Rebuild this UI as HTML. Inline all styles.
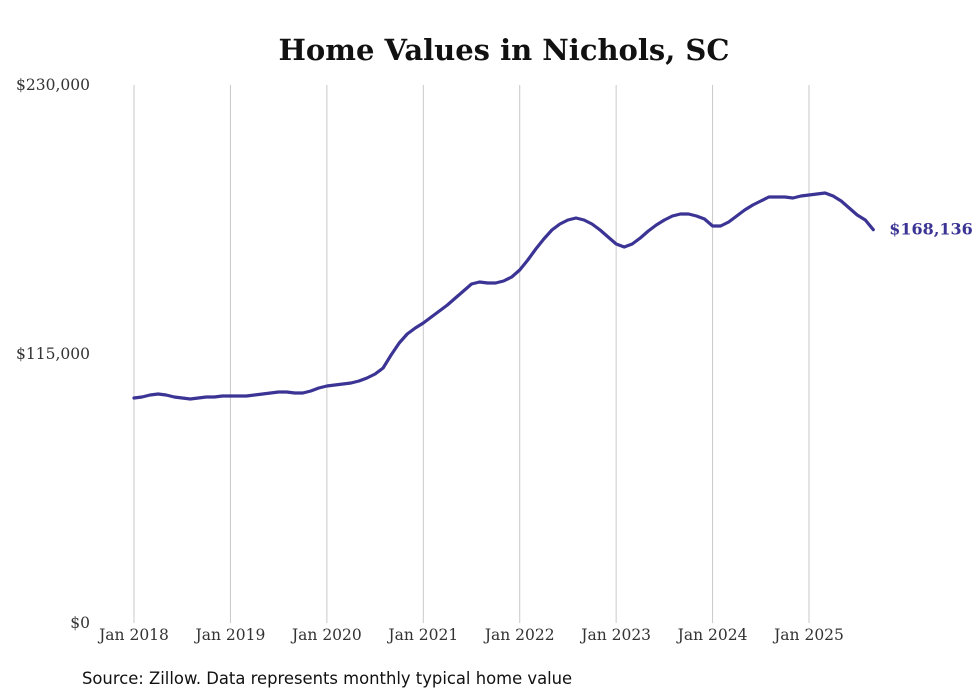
<!DOCTYPE html>
<html><head><meta charset="utf-8"><style>
body{margin:0;background:#fff;}
svg{display:block;}
</style></head><body>
<svg width="980" height="699" id="c">
<text x="504" y="60" text-anchor="middle" font-family="'DejaVu Serif','Liberation Serif',serif" font-weight="bold" font-size="29" fill="#111">Home Values in Nichols, SC</text>
<text x="82" y="684" font-family="'DejaVu Sans','Liberation Sans',sans-serif" font-size="16.4" fill="#111">Source: Zillow. Data represents monthly typical home value</text>
<g id="grid"></g><g id="yax"></g><g id="xax"></g><g id="ser"></g>
</svg>
<script>
const yTicks=[0,115000,230000];
const yTickLabels=["$0","$115,000","$230,000"];
const xTickYears=[2018,2019,2020,2021,2022,2023,2024,2025];
const xTickLabels=["Jan 2018","Jan 2019","Jan 2020","Jan 2021","Jan 2022","Jan 2023","Jan 2024","Jan 2025"];
const startYear=2018;
const values=[96190,96620,97470,97900,97470,96620,96190,95760,96190,96620,96620,97050,
97050,97050,97050,97470,97900,98330,98760,98760,98330,98330,99180,100460,
101320,101750,102170,102600,103460,104740,106450,109010,114570,119700,123550,126120,
128260,130820,133390,135950,138950,141940,144930,145790,145360,145360,146220,147930,
150920,155200,159900,164170,168020,170590,172300,173150,172300,170590,168020,165030,
162040,160750,162040,164600,167600,170160,172300,174010,174870,174870,174010,172730,
169730,169730,171450,174010,176580,178710,180420,182130,182130,182130,181710,182560,
182990,183410,183840,182560,180420,177430,174440,172300,168136];
const ns="http://www.w3.org/2000/svg";
const X0=134,PX_YEAR=96.43,Y0=623,Y1=85,YMAX=230000;
function xs(m){return X0+m*PX_YEAR/12;}
function ys(v){return Y0-(v/YMAX)*(Y0-Y1);}
function mk(t,a,p){const e=document.createElementNS(ns,t);for(const k in a)e.setAttribute(k,a[k]);p.appendChild(e);return e;}
const grid=document.getElementById('grid'),yax=document.getElementById('yax'),xax=document.getElementById('xax'),ser=document.getElementById('ser');
xTickYears.forEach((yr,i)=>{
 const x=xs((yr-startYear)*12);
 const l=mk('line',{x1:x,x2:x,y1:Y1,y2:Y0,stroke:'#c8c8c8','stroke-width':1},grid);
 
 
 const t=mk('text',{x:x,y:Y0+17,'text-anchor':'middle','font-family':"'DejaVu Serif','Liberation Serif',serif",'font-size':15.5,fill:'#333'},xax);
 t.textContent=xTickLabels[i];
 
 
});
yTicks.forEach((v,i)=>{
 const t=mk('text',{x:90,y:ys(v)+5,'text-anchor':'end','font-family':"'DejaVu Serif','Liberation Serif',serif",'font-size':15.5,fill:'#333'},yax);
 t.textContent=yTickLabels[i];
 
 
});
const d=values.map((v,i)=>(i?'L':'M')+xs(i).toFixed(1)+','+ys(v).toFixed(1)).join('');
const p=mk('path',{d:d,fill:'none',stroke:'#3b3494','stroke-width':3.2,'stroke-linejoin':'round','stroke-linecap':'round'},ser);


const last=values.length-1;
const lb=mk('text',{x:xs(last)+16,y:ys(values[last])+5,'font-family':"'DejaVu Serif','Liberation Serif',serif",'font-weight':'bold','font-size':16,fill:'#3b3494'},ser);
lb.textContent='$'+values[last].toLocaleString('en-US');


</script>
</body></html>
